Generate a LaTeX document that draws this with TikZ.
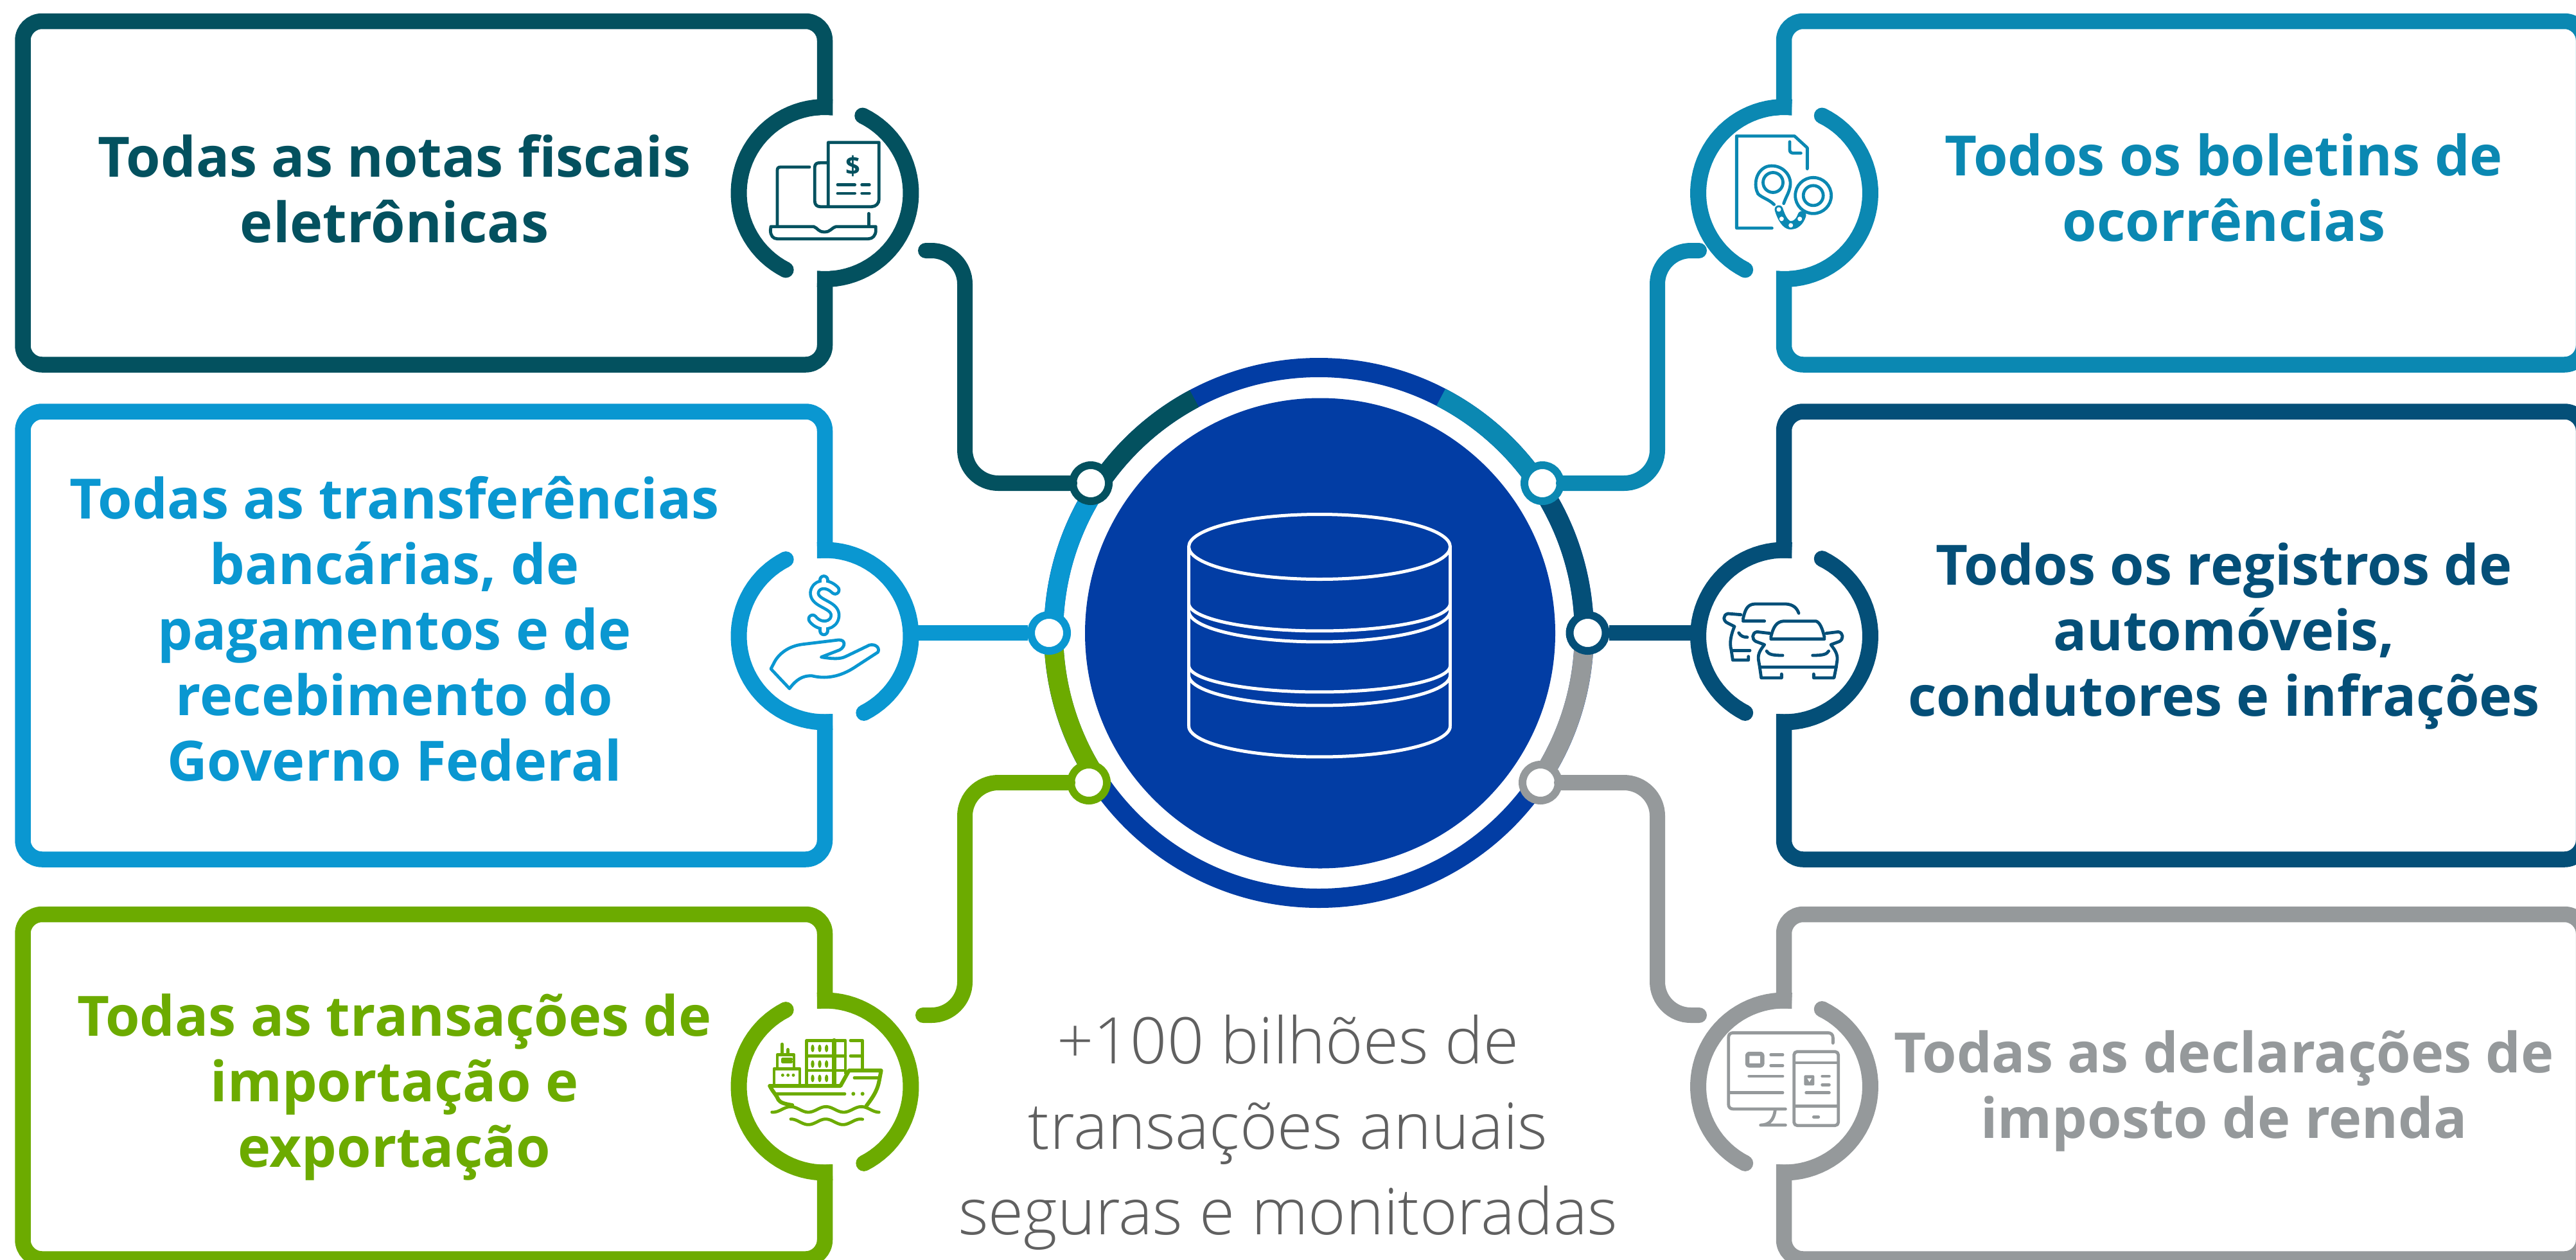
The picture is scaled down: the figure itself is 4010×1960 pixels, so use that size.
\documentclass[tikz,border=0pt]{standalone}
\usepackage{fontspec}
\setmainfont{Open Sans}
\newfontfamily\oslight{Open Sans Light}
\definecolor{cA}{HTML}{03515F}
\definecolor{cB}{HTML}{0A97D1}
\definecolor{cC}{HTML}{6CAB00}
\definecolor{cD}{HTML}{0B88B2}
\definecolor{cE}{HTML}{044F78}
\definecolor{cF}{HTML}{95999B}
\definecolor{cG}{HTML}{023DA4}
\definecolor{cH}{HTML}{606060}
\tikzset{
 boxst/.style={draw=#1,line width=24.5pt,rounded corners=30pt,inner sep=0pt,fill=white},
 labelst/.style={text=#1,font=\fontsize{86.5}{102}\selectfont\bfseries,align=center,inner sep=0pt},
 holest/.style={circle,fill=white,minimum size=243pt,inner sep=0pt,outer sep=0pt},
 ringln/.style={line width=25pt,line cap=butt},
 connst/.style={line width=24pt,line cap=round,rounded corners=52pt},
 dotst/.style={circle,draw=#1,fill=white,line width=12pt,minimum size=56pt,inner sep=0pt},
 iconview/.style={x=.33333pt,y=-.33333pt,line width=4.8pt,line cap=round,line join=round},
 bigring/.style={line width=30pt,line cap=butt},
}
\newcommand{\ringA}[3]{%
 \draw[ringln,#1] plot[domain=-243:-85,samples=40] ({#2+134*cos(\x)},{#3+134*sin(\x)});
 \fill[#1] ({#2+134*cos(-243)},{#3+134*sin(-243)}) circle[radius=12.5pt];
 \draw[ringln,#1] plot[domain=-64:95,samples=40] ({#2+134*cos(\x)},{#3+134*sin(\x)});
 \fill[#1] ({#2+134*cos(-64)},{#3+134*sin(-64)}) circle[radius=12.5pt];
}
\newcommand{\ringB}[3]{%
 \draw[ringln,#1] plot[domain=-275:-117,samples=40] ({#2+134*cos(\x)},{#3+134*sin(\x)});
 \fill[#1] ({#2+134*cos(-117)},{#3+134*sin(-117)}) circle[radius=12.5pt];
 \draw[ringln,#1] plot[domain=-95:63,samples=40] ({#2+134*cos(\x)},{#3+134*sin(\x)});
 \fill[#1] ({#2+134*cos(63)},{#3+134*sin(63)}) circle[radius=12.5pt];
}
\newcommand{\bigarc}[3]{\draw[bigring,#1] plot[domain=#2:#3,samples=40] ({2053+413*cos(\x)},{985+413*sin(\x)});}
\begin{document}
\begin{tikzpicture}[x=1pt,y=-1pt]
\useasboundingbox (0,0) rectangle (4010,1960);
\clip (0,0) rectangle (4010,1960);
% boxes
\node[boxst=cA,minimum width=1248.5pt,minimum height=534.5pt] (b1) at (659.75,300.25) {};
\node[boxst=cB,minimum width=1248.5pt,minimum height=697pt] (b2) at (659.75,989) {};
\node[boxst=cC,minimum width=1248.5pt,minimum height=536.5pt] (b3) at (659.75,1691.25) {};
\node[boxst=cD,minimum width=1245pt,minimum height=534.5pt] (b4) at (3399.5,300.25) {};
\node[boxst=cE,minimum width=1245pt,minimum height=697pt] (b5) at (3399.5,989) {};
\node[boxst=cF,minimum width=1245pt,minimum height=536.5pt] (b6) at (3399.5,1691.25) {};
% labels
\node[labelst=cA] (t1) at (614,294) {Todas as notas fiscais\\eletrônicas};
\node[labelst=cB] (t2) at (614,979) {Todas as transferências\\bancárias, de\\pagamentos e de\\recebimento do\\Governo Federal};
\node[labelst=cC] (t3) at (614,1692) {Todas as transações de\\importação e\\exportação};
\node[labelst=cD] (t4) at (3462,292) {Todos os boletins de\\ocorrências};
\node[labelst=cE] (t5) at (3462,990) {Todos os registros de\\automóveis,\\condutores e infrações};
\node[labelst=cF] (t6) at (3462,1698) {Todas as declarações de\\imposto de renda};
\node[text=cH,font=\fontsize{100}{133}\selectfont\oslight,align=center,inner sep=0pt] (tc) at (2005,1762) {+100 bilhões de\\transações anuais\\seguras e monitoradas};
% icon holes and rings
\node[holest] (i1) at (1284,300.5) {};
\node[holest] (i2) at (1284,990) {};
\node[holest] (i3) at (1284,1691) {};
\node[holest] (i4) at (2777.5,300.5) {};
\node[holest] (i5) at (2777.5,990) {};
\node[holest] (i6) at (2777.5,1691) {};
\ringA{cA}{1284}{300.5}
\ringB{cB}{1284}{990}
\ringB{cC}{1284}{1691}
\ringA{cD}{2777.5}{300.5}
\ringA{cE}{2777.5}{990}
\ringA{cF}{2777.5}{1691}
% centre
\draw[bigring,cG] (2053,985) circle[radius=413pt];
\bigarc{cA}{-147}{-118}
\bigarc{cB}{-180}{-147}
\bigarc{cC}{147}{180}
\bigarc{cD}{-62.6}{-33}
\bigarc{cE}{-33}{0}
\bigarc{cF}{0}{33}
\node[circle,fill=cG,minimum size=732pt,inner sep=0pt] (disc) at (2055,985.5) {};
% connector dots
\node[dotst=cA] (n1) at (1698,752) {};
\node[dotst=cB] (n2) at (1633,985) {};
\node[dotst=cC] (n3) at (1695,1218) {};
\node[dotst=cD] (n4) at (2401,752) {};
\node[dotst=cE] (n5) at (2471.5,985) {};
\node[dotst=cF] (n6) at (2398,1218) {};
\coordinate (c1) at (1441,390);
\coordinate (c3) at (1437,1580);
\coordinate (c4) at (2645,390);
\coordinate (c6) at (2645,1580);
\draw[connst,cA,shorten >=33pt] (c1) -- (1502,390) -- (1502,752) -- (n1.center);
\draw[line width=24pt,cB,shorten <=33pt] (n2.center) -- (i2.east |- n2.center);
\draw[connst,cC,shorten >=33pt] (c3) -- (1502,1580) -- (1502,1218) -- (n3.center);
\draw[connst,cD,shorten >=33pt] (c4) -- (2580,390) -- (2580,752) -- (n4.center);
\draw[line width=24pt,cE,shorten <=33pt] (n5.center) -- (i5.west |- n5.center);
\draw[connst,cF,shorten >=33pt] (c6) -- (2580,1580) -- (2580,1218) -- (n6.center);
% database
\begin{scope}[line width=5pt]
\draw[white,line width=5pt] (2054,851) ellipse[x radius=203.5pt,y radius=50.5pt];
\draw[white,line width=5pt] (1850.5,851) -- (1850.5,1130);
\draw[white,line width=5pt] (2257.5,851) -- (2257.5,1130);
\draw[white,line width=5pt] plot[domain=0:180,samples=50] ({2054+203.5*cos(\x)},{939+43*sin(\x)});
\draw[white,line width=5pt] plot[domain=0:180,samples=50] ({2054+203.5*cos(\x)},{951+48*sin(\x)});
\draw[white,line width=5pt] plot[domain=0:180,samples=50] ({2054+203.5*cos(\x)},{1036+41*sin(\x)});
\draw[white,line width=5pt] plot[domain=0:180,samples=50] ({2054+203.5*cos(\x)},{1051+47*sin(\x)});
\draw[white,line width=5pt] plot[domain=0:180,samples=50] ({2054+203.5*cos(\x)},{1130+48*sin(\x)});
\end{scope}
% icon 1: laptop and invoice
\begin{scope}[xshift=1050pt,yshift=-100pt,iconview,draw=cA]
\draw (630,480) -- (495,480) .. controls (485,480) and (480,485) .. (480,495) -- (480,755);
\draw (450,758) -- (650,758) .. controls (670,765) and (670,783) .. (700,783) .. controls (730,783) and (730,765) .. (755,758) -- (940,758) -- (940,775) .. controls (940,800) and (925,815) .. (905,815) -- (480,815) .. controls (460,815) and (448,800) .. (448,775) -- cycle;
\draw (907,697) -- (907,755);
\draw (718,660) -- (718,365) -- (955,365) -- (955,630) .. controls (955,650) and (940,665) .. (920,665) -- (680,665) .. controls (665,665) and (655,655) .. (655,640) -- (655,480) .. controls (655,465) and (665,460) .. (680,460) -- (715,460);
\draw (762,563) -- (842,563); \draw (875,563) -- (910,563);
\draw (762,603) -- (842,603); \draw (875,603) -- (910,603);
\node[text=cA,font=\fontsize{40}{40}\selectfont\bfseries,inner sep=0pt] (d1) at (835,475) {\$};
\end{scope}
% icon 2: document and handcuffs
\begin{scope}[xshift=2560pt,yshift=-100pt,iconview,draw=cD]
\draw (595,765) -- (430,765) -- (430,335) -- (700,335) -- (760,390) -- (760,488);
\draw (678,362) -- (678,400) .. controls (678,410) and (685,415) .. (695,415) -- (730,415);
\draw (530,605) .. controls (510,570) and (515,500) .. (570,478) .. controls (630,460) and (690,510) .. (680,570) .. controls (675,600) and (660,620) .. (650,650);
\draw (530,605) .. controls (550,625) and (580,630) .. (605,655);
\draw[line width=4.8pt] (600,552) circle[radius=15.5pt];
\draw (788,613) circle[radius=28pt];
\draw[line width=4.8pt] (788,613) circle[radius=15.5pt];
\draw[line width=13pt,line cap=round] (627,678) .. controls (640,720) and (660,752) .. (683,752) .. controls (705,752) and (725,735) .. (735,705);
\fill[white] (627,678) circle[radius=3.5pt] (640,722) circle[radius=3.5pt] (683,752) circle[radius=3.5pt] (725,722) circle[radius=3.5pt];
\end{scope}
% icon 3: hand with dollar
\begin{scope}[xshift=1100pt,yshift=-820pt,iconview,draw=cB]
\draw[line width=17pt] (600,295) .. controls (560,255) and (505,265) .. (503,310) .. controls (505,360) and (595,360) .. (600,410) .. controls (600,465) and (530,475) .. (495,430);
\draw[line width=17pt] (547,248) -- (547,262) (547,470) -- (547,485);
\draw[white,line width=7.5pt] (600,295) .. controls (560,255) and (505,265) .. (503,310) .. controls (505,360) and (595,360) .. (600,410) .. controls (600,465) and (530,475) .. (495,430);
\draw[white,line width=7.5pt] (547,248) -- (547,262) (547,470) -- (547,485);
\draw (300,663) -- (387,755) .. controls (420,710) and (450,695) .. (490,695) .. controls (550,710) and (620,705) .. (700,650) -- (800,585) .. controls (810,565) and (790,545) .. (760,552) -- (650,605) .. controls (620,620) and (580,615) .. (535,608) -- (620,575) .. controls (650,560) and (650,525) .. (615,528) -- (450,548) .. controls (390,555) and (345,585) .. (320,625) -- cycle;
\end{scope}
% icon 4: cars
\begin{scope}[xshift=2600pt,yshift=-820pt,iconview,draw=cE]
\draw (470,515) .. controls (480,470) and (495,442) .. (530,440) -- (680,440) .. controls (700,445) and (712,480) .. (720,515);
\draw (470,523) -- (720,523);
\draw (465,497) -- (405,490) .. controls (380,495) and (380,525) .. (400,535) -- (440,550) .. controls (425,570) and (408,590) .. (412,620) -- (418,655) -- (775,655) -- (780,620) .. controls (782,590) and (765,570) .. (750,550) -- (790,535) .. controls (810,525) and (810,495) .. (785,490) -- (728,497);
\draw (418,655) -- (425,705) -- (520,705) -- (520,687);
\draw (775,655) -- (765,705) -- (670,705) -- (670,687);
\draw (450,580) .. controls (460,595) and (475,600) .. (525,600);
\draw (740,580) .. controls (730,595) and (715,600) .. (665,600);
\draw (340,430) .. controls (350,385) and (360,362) .. (395,360) -- (540,360) .. controls (575,362) and (592,380) .. (600,403);
\draw (340,440) -- (440,440);
\draw (330,410) -- (270,405) .. controls (245,410) and (245,440) .. (270,450) -- (300,465) .. controls (285,500) and (275,540) .. (285,575) -- (292,622) -- (365,622) -- (365,605);
\draw (290,577) -- (372,577);
\draw (320,495) .. controls (330,510) and (340,515) .. (360,515);
\end{scope}
% icon 5: ship
\begin{scope}[xshift=1100pt,yshift=-1530pt,iconview,draw=cC]
\draw (467,475) -- (467,268) -- (648,268) -- (648,420);
\draw (467,340) -- (648,340) (467,408) -- (648,408);
\draw[line width=7pt] (595,268) -- (595,475);
\draw (672,268) -- (728,268) -- (728,405) (672,340) -- (728,340);
\foreach \py in {305,378,445} \foreach \px in {495,528,560} \fill[cC] (\px,\py) ellipse[x radius=2.6pt,y radius=6pt];
\draw[line width=6pt] (295,480) -- (625,480) -- (665,408) -- (815,408) -- (805,460) .. controls (795,510) and (770,540) .. (745,575);
\draw[line width=6pt] (295,480) .. controls (310,510) and (325,520) .. (335,545) .. controls (345,560) and (370,565) .. (400,570);
\draw (320,517) -- (645,517);
\fill[cC] (685,517) circle[radius=3pt] (728,517) circle[radius=3pt];
\draw (690,443) -- (805,443);
\draw (315,475) -- (315,400) -- (435,400) -- (435,475);
\fill[cC] (355,430) circle[radius=2.5pt] (380,430) circle[radius=2.5pt] (405,430) circle[radius=2.5pt];
\draw (330,400) -- (330,335) -- (408,335) -- (408,400);
\draw (395,355) -- (355,355) -- (355,368) -- (395,368);
\draw (352,285) -- (352,330) (380,310) -- (380,330);
\draw plot[domain=305:805,samples=70] (\x,{590+13*cos((\x-475)*2.1818)});
\draw plot[domain=393:728,samples=50] (\x,{648+13*cos((\x-475)*2.2222)});
\end{scope}
% icon 6: monitor and phone
\begin{scope}[xshift=2600pt,yshift=-1530pt,iconview,draw=cF]
\draw (760,280) -- (760,255) .. controls (760,240) and (750,232) .. (735,232) -- (295,232) .. controls (280,232) and (272,240) .. (272,255) -- (272,565) .. controls (272,580) and (280,588) .. (295,588) -- (538,588);
\draw (280,512) -- (525,512);
\draw (490,592) .. controls (485,635) and (465,663) .. (422,663) -- (538,663);
\draw[rounded corners=3pt,line width=6.5pt] (360,330) rectangle (430,385);
\draw (470,335) -- (525,335) (470,385) -- (525,385) (368,435) -- (525,435);
\draw[rounded corners=5pt] (578,320) rectangle (785,665);
\draw (580,372) -- (783,372) (580,575) -- (783,575);
\fill[cF,rounded corners=2pt] (625,430) rectangle (673,478);
\fill[white] (640,445) -- (660,445) -- (650,462) -- cycle;
\draw (710,435) -- (742,435) (710,475) -- (742,475) (635,512) -- (742,512) (670,625) -- (692,625);
\end{scope}
\end{tikzpicture}
\end{document}
